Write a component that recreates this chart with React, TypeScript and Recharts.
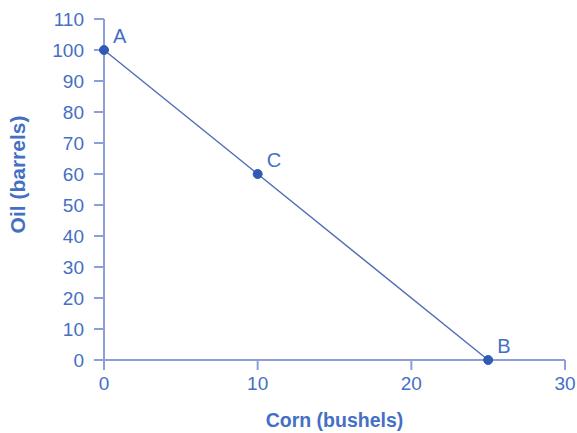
import React from "react";
import { LineChart, Line, XAxis, YAxis, LabelList } from "recharts";

const cornValues = [0, 10, 25];
const oilValues = [100, 60, 0];
const pointNames = ["A", "C", "B"];
const xTicks = [0, 10, 20, 30];
const yTicks = [0, 10, 20, 30, 40, 50, 60, 70, 80, 90, 100, 110];

const data = cornValues.map((c, i) => ({ corn: c, oil: oilValues[i], name: pointNames[i] }));

const TEXT = "#456fc4";
const AXIS = "#8d9fd9";
const LINE = "#5270b8";
const DOT = "#2f5bb5";
const FONT = "'Liberation Sans', Arial, sans-serif";

const PointLabel = (props: any) => {
  const { x, y, value } = props;
  return (
    <text x={x + 9} y={y - 7} fill={TEXT} fontSize={20} fontFamily={FONT}>
      {value}
    </text>
  );
};

export default function App() {
  return (
    <div style={{ position: "absolute", left: 0, top: 0, background: "#fff" }}>
      <LineChart
        width={577}
        height={433}
        data={data}
        margin={{ top: 19, right: 12, left: 0, bottom: 0 }}
      >
        <XAxis
          dataKey="corn"
          type="number"
          domain={[0, 30]}
          ticks={xTicks}
          height={73}
          stroke={AXIS}
          strokeWidth={2}
          tickSize={10}
          tickMargin={7}
          tick={{ fill: TEXT, fontSize: 19, fontFamily: FONT }}
          tickLine={{ stroke: AXIS, strokeWidth: 2 }}
          label={{
            value: "Corn (bushels)",
            position: "insideBottom",
            offset: 6,
            fill: TEXT,
            fontSize: 19.5,
            fontWeight: "bold",
            fontFamily: FONT,
          }}
        />
        <YAxis
          type="number"
          domain={[0, 110]}
          ticks={yTicks}
          width={104}
          stroke={AXIS}
          strokeWidth={2}
          tickSize={10}
          tickMargin={10}
          interval={0}
          tick={{ fill: TEXT, fontSize: 19, fontFamily: FONT }}
          tickLine={{ stroke: AXIS, strokeWidth: 2 }}
          label={{
            value: "Oil (barrels)",
            angle: -90,
            position: "insideLeft",
            offset: 18,
            dy: -15,
            fill: TEXT,
            fontSize: 21,
            fontWeight: "bold",
            fontFamily: FONT,
            textAnchor: "middle",
          }}
        />
        <Line
          dataKey="oil"
          stroke={LINE}
          strokeWidth={1.5}
          isAnimationActive={false}
          dot={{ r: 4.5, fill: DOT, stroke: DOT, strokeWidth: 1 }}
          activeDot={false}
        >
          <LabelList dataKey="name" content={<PointLabel />} />
        </Line>
      </LineChart>
    </div>
  );
}
